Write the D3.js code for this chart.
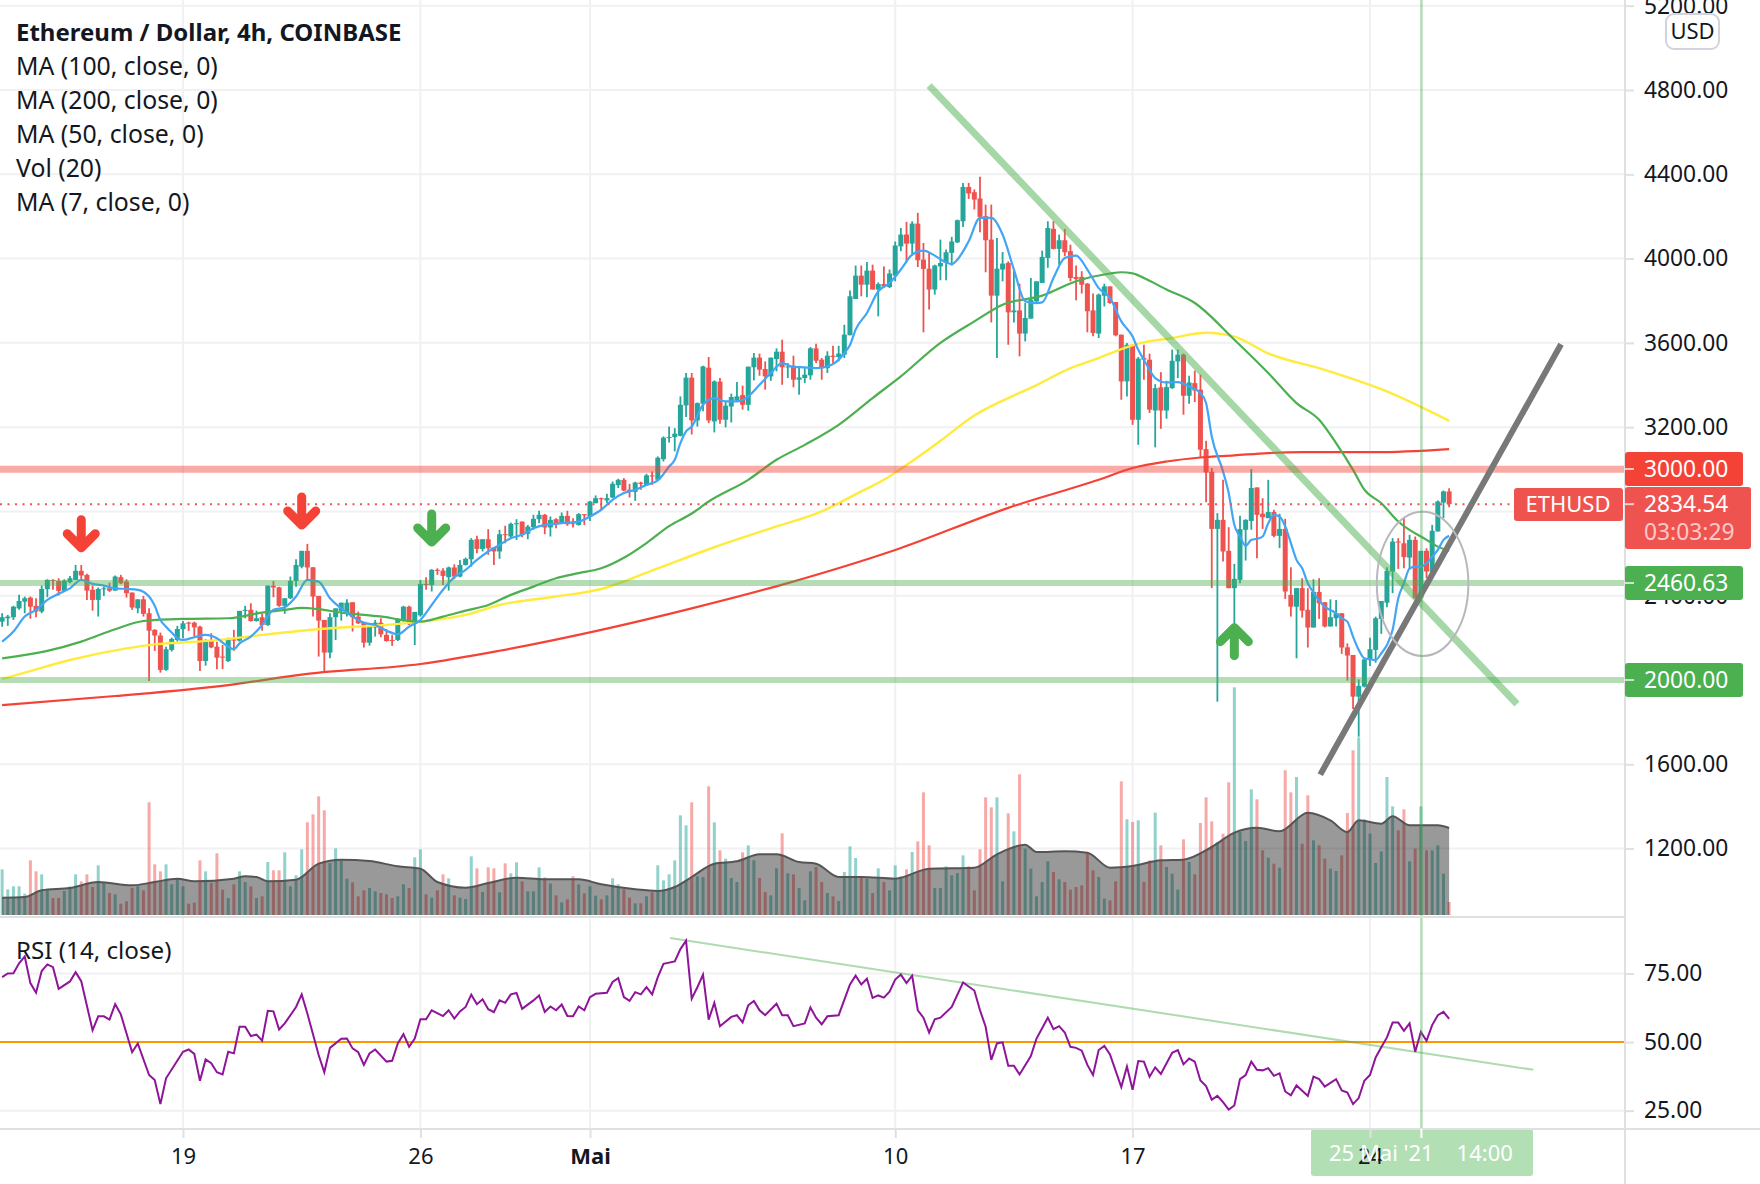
<!DOCTYPE html>
<html>
<head>
<meta charset="utf-8">
<script src="https://d3js.org/d3.v7.min.js"></script>
<style>
  body { margin: 0; background: #fff; }
  text { font-family: "Noto Sans", sans-serif; }
</style>
</head>
<body>
<svg id="chart" width="1760" height="1184"></svg>
<script>
// candles, 4h, first one is 32 bars before 19 Apr
var firstBar = -32;
var opens = [2277,2293,2298,2340,2372,2391,2352,2325,2431,2475,
2470,2423,2464,2475,2518,2499,2428,2380,2432,2435,
2424,2488,2467,2415,2340,2383,2317,2238,2211,2048,2143,2190,
2241,2272,2272,2253,2090,2190,2158,2111,2090,2193,
2187,2328,2333,2280,2298,2261,2447,2440,2352,2388,
2470,2538,2613,2535,2399,2285,2130,2298,2328,2317,
2369,2301,2276,2177,2249,2272,2214,2190,2190,2282,
2348,2266,2307,2456,2451,2523,2519,2488,2534,2491,
2546,2573,2668,2622,2668,2629,2610,2692,2681,2739,
2752,2694,2725,2763,2784,2724,2763,2741,2779,2744,
2736,2787,2776,2839,2863,2852,2866,2925,2950,2903,
2893,2937,2925,2971,2950,3048,3148,3153,3159,3303,
3435,3232,3311,3482,3227,3416,3235,3298,3327,3352,
3306,3484,3530,3476,3441,3523,3558,3484,3492,3425,
3433,3446,3574,3520,3480,3539,3533,3544,3636,3808,
3919,3876,3943,3853,3879,3865,3919,4058,4114,4071,
4166,3995,3952,3853,3963,3979,4027,4077,4177,4340,
4315,4285,4201,4090,3824,3948,3979,3745,3754,3644,
3715,3797,3884,4003,4141,4046,4087,4035,3913,3913,
3881,3754,3644,3824,3868,3794,3639,3417,3591,3235,
3528,3520,3279,3389,3279,3385,3512,3544,3349,3409,
3378,3096,2988,2717,2760,2613,2436,2475,2713,2755,
2914,2789,2768,2797,2684,2717,2404,2348,2436,2333,
2249,2418,2369,2254,2293,2317,2155,2119,1921,1969,
2095,2143,2290,2367,2515,2657,2649,2581,2665,2388,
2613,2512,2705,2842,2895];
var closes = [2298,2301,2348,2375,2388,2348,2325,2432,2475,2470,
2423,2472,2483,2518,2496,2424,2380,2432,2435,2424,
2491,2459,2412,2344,2383,2314,2234,2211,2048,2146,2195,2242,
2269,2268,2250,2090,2190,2155,2106,2106,2195,2187,
2328,2333,2280,2293,2261,2448,2439,2352,2388,2470,
2546,2613,2534,2396,2282,2130,2298,2340,2367,2367,
2298,2269,2177,2253,2272,2217,2185,2185,2288,2348,
2265,2323,2456,2451,2523,2518,2494,2534,2491,2546,
2575,2665,2622,2668,2625,2610,2692,2689,2741,2744,
2689,2728,2765,2784,2724,2760,2744,2779,2739,2741,
2787,2782,2847,2863,2858,2863,2931,2950,2899,2893,
2937,2931,2971,2966,3055,3150,3153,3169,3306,3435,
3232,3314,3488,3232,3417,3235,3302,3343,3346,3306,
3487,3530,3473,3441,3530,3558,3484,3488,3425,3436,
3449,3574,3515,3480,3539,3533,3549,3639,3821,3919,
3876,3943,3853,3879,3868,3929,4062,4114,4071,4166,
3992,3951,3853,3967,3979,4030,4081,4182,4340,4309,
4280,4198,4087,3824,3952,3976,3745,3754,3644,3718,
3805,3892,4008,4145,4046,4087,4030,3908,3903,3876,
3750,3647,3829,3868,3789,3636,3417,3591,3235,3525,
3520,3283,3385,3279,3390,3515,3544,3349,3412,3374,
3093,2985,2717,2760,2610,2436,2480,2716,2760,2911,
2784,2773,2797,2684,2717,2420,2348,2436,2329,2249,
2418,2364,2254,2298,2317,2154,2116,1921,1972,2098,
2146,2293,2375,2518,2657,2652,2583,2665,2388,2613,
2515,2708,2847,2895,2834.54];
var highs = [2317,2309,2352,2404,2396,2396,2388,2448,2478,2478,
2483,2478,2494,2546,2546,2504,2448,2439,2443,2462,
2496,2499,2478,2415,2383,2399,2340,2241,2225,2158,2201,2257,
2280,2277,2277,2257,2193,2222,2182,2166,2201,2238,
2328,2352,2364,2329,2314,2448,2470,2443,2388,2491,
2573,2613,2646,2535,2399,2285,2317,2340,2367,2383,
2369,2325,2276,2266,2285,2293,2241,2214,2293,2352,
2352,2323,2475,2488,2526,2530,2530,2538,2549,2570,
2581,2673,2684,2668,2716,2629,2713,2732,2747,2763,
2752,2736,2784,2803,2788,2776,2768,2795,2803,2768,
2792,2787,2850,2876,2866,2884,2942,2955,2958,2931,
2941,2941,2979,2990,3061,3156,3203,3195,3346,3457,
3457,3317,3491,3533,3422,3433,3322,3359,3414,3397,
3487,3552,3549,3512,3530,3574,3615,3504,3539,3484,
3480,3580,3596,3528,3560,3586,3586,3686,3849,3967,
3967,3984,3971,3887,3963,3948,4081,4145,4174,4177,
4217,4074,4027,3971,4090,4043,4103,4185,4359,4359,
4328,4388,4256,4256,4098,4031,3987,3940,3881,3789,
3908,3892,4038,4177,4177,4114,4141,4066,3967,3940,
3884,3834,3834,3881,3868,3794,3639,3599,3591,3533,
3591,3549,3404,3461,3420,3568,3568,3549,3444,3468,
3449,3135,3006,2792,2950,2725,2551,2779,2763,3001,
2914,2863,2950,2808,2789,2765,2535,2436,2483,2436,
2478,2483,2369,2383,2380,2317,2174,2119,2003,2098,
2201,2301,2375,2535,2673,2673,2771,2689,2681,2613,
2625,2736,2852,2899,2910];
var lows = [2253,2257,2285,2333,2317,2291,2298,2317,2393,2428,
2401,2420,2459,2475,2475,2380,2329,2301,2399,2418,
2424,2455,2391,2333,2317,2301,1995,2138,2035,2044,2135,2182,
2198,2233,2206,2043,2068,2151,2051,2052,2086,2139,
2182,2293,2277,2277,2234,2257,2393,2348,2314,2385,
2443,2530,2470,2301,2111,2037,2103,2190,2282,2301,
2230,2266,2154,2163,2206,2203,2182,2162,2185,2277,
2261,2166,2301,2428,2420,2499,2451,2424,2478,2488,
2543,2538,2602,2610,2594,2546,2575,2649,2673,2665,
2678,2668,2713,2744,2692,2681,2720,2741,2732,2724,
2733,2736,2755,2839,2808,2839,2863,2911,2896,2866,
2850,2903,2922,2926,2950,3037,3127,3085,3156,3248,
3165,3203,3275,3219,3175,3216,3199,3222,3324,3283,
3278,3422,3444,3378,3420,3465,3401,3433,3389,3354,
3409,3425,3504,3425,3457,3504,3512,3528,3636,3808,
3821,3816,3853,3726,3860,3860,3892,4035,3982,4014,
3960,3650,3758,3829,3897,3897,3967,4074,4150,4283,
4233,4125,3935,3697,3528,3892,3591,3697,3536,3607,
3715,3789,3884,3956,4043,3971,4011,3892,3802,3834,
3650,3631,3623,3773,3786,3631,3330,3346,3211,3116,
3425,3267,3104,3192,3240,3382,3433,3259,3311,3319,
3058,2844,2436,1897,2562,2436,2151,2459,2567,2713,
2578,2717,2768,2678,2626,2385,2301,2103,2296,2154,
2249,2290,2250,2254,2254,2124,1997,1862,1731,1965,
2067,2082,2219,2345,2412,2527,2530,2523,2388,2372,
2483,2507,2705,2768,2820];
// volume, arbitrary units (the pane has no scale)
var volumes = [137,77,86,86,64,164,131,122,74,51,
51,72,86,122,101,122,84,149,99,66,
62,34,41,81,86,74,338,152,131,152,92,109,
86,34,37,164,131,96,185,76,51,92,
131,99,86,51,56,159,134,134,188,86,
119,197,278,302,356,314,156,200,164,109,
98,56,74,81,71,66,62,51,56,92,
81,173,197,62,52,74,122,110,59,52,
48,176,140,69,143,140,68,155,125,158,
101,71,71,143,113,94,59,38,47,116,
92,65,86,58,47,59,110,92,77,52,
35,35,56,68,149,104,122,164,299,269,
338,116,114,386,278,194,169,111,99,188,
209,164,111,69,59,140,245,125,122,81,
44,131,144,99,66,56,42,129,206,171,
114,109,66,140,99,74,149,116,137,189,
221,368,209,81,81,146,119,126,179,146,
74,197,353,323,353,101,305,251,422,199,
139,56,99,161,129,107,99,76,84,89,
186,134,114,49,44,101,401,287,279,284,
99,164,307,209,144,124,76,227,159,122,
276,353,281,219,244,398,683,249,222,377,
347,194,172,154,142,434,368,414,214,359,
224,209,169,139,132,179,306,494,533,287,
244,156,191,414,326,254,317,161,199,326,
194,194,209,124,39];
var volMA = [[-32,52],[-28,54],[-25,74],[-20,81],[-15,99],[-9,89],[-5,99],[-1,109],[2,101],[9,109],[11,116],[13,114],[15,101],[20,106],[24,154],[28,166],[33,162],[38,146],[42,139],[45,99],[50,82],[54,96],[59,112],[64,107],[70,107],[74,92],[80,77],[84,72],[87,84],[90,114],[94,154],[98,161],[102,182],[105,182],[109,159],[112,154],[116,114],[120,114],[126,109],[132,139],[140,142],[144,182],[149,211],[151,189],[156,191],[160,187],[164,142],[168,147],[173,164],[177,166],[182,204],[186,247],[190,262],[194,251],[199,307],[203,284],[206,249],[208,284],[212,274],[214,296],[217,269],[222,269],[224,261]];

var ma7 = [[-32,2182],[-30,2230],[-28,2301],[-26,2333],[-24,2380],[-22,2409],[-20,2435],[-18,2475],[-16,2456],[-14,2448],[-12,2435],[-10,2432],[-8,2428],[-6,2396],[-5,2352],[-4,2285],[-3,2253],[-2,2225],[-1,2198],[0,2190],[2,2203],[4,2214],[6,2198],[8,2158],[9,2146],[10,2174],[12,2206],[14,2261],[16,2333],[18,2345],[20,2396],[22,2475],[24,2467],[26,2388],[28,2340],[30,2301],[32,2272],[34,2261],[36,2234],[38,2217],[40,2253],[42,2285],[44,2356],[46,2428],[48,2488],[50,2523],[52,2570],[54,2610],[56,2641],[58,2673],[60,2689],[62,2720],[64,2736],[66,2741],[68,2747],[70,2752],[72,2776],[74,2808],[76,2855],[78,2887],[80,2903],[82,2926],[84,2947],[86,3013],[87,3045],[88,3124],[89,3180],[90,3203],[92,3306],[94,3338],[96,3322],[98,3322],[100,3346],[102,3401],[104,3457],[106,3504],[108,3485],[110,3484],[112,3480],[114,3488],[116,3520],[117,3552],[118,3590],[119,3663],[121,3742],[123,3845],[125,3884],[127,3948],[129,4019],[131,4038],[133,4014],[135,3982],[136,3974],[137,3995],[139,4082],[141,4193],[143,4193],[145,4114],[147,3948],[149,3797],[151,3789],[152,3792],[154,3908],[156,4003],[158,4014],[160,3948],[162,3860],[164,3813],[166,3702],[168,3630],[169,3567],[170,3520],[172,3433],[174,3412],[176,3414],[178,3393],[180,3362],[181,3314],[182,3156],[184,2990],[185,2887],[186,2736],[187,2681],[188,2637],[189,2665],[190,2670],[191,2681],[192,2744],[193,2784],[194,2776],[195,2729],[196,2650],[197,2570],[198,2530],[199,2459],[200,2415],[202,2348],[204,2317],[205,2293],[206,2277],[207,2206],[208,2143],[209,2103],[210,2098],[211,2095],[212,2127],[213,2166],[214,2238],[215,2388],[216,2459],[217,2530],[218,2538],[219,2538],[220,2554],[221,2586],[222,2618],[223,2665],[224,2684]];
var ma50 = [[-32,2103],[-24,2138],[-18,2182],[-12,2241],[-7,2280],[0,2290],[8,2293],[14,2320],[18,2333],[21,2342],[24,2336],[28,2320],[32,2309],[36,2298],[38,2288],[42,2277],[46,2301],[50,2329],[54,2356],[58,2404],[62,2443],[66,2483],[70,2507],[74,2530],[78,2580],[82,2650],[86,2730],[90,2790],[93,2847],[100,2950],[105,3045],[110,3116],[116,3211],[122,3338],[127,3441],[134,3600],[140,3702],[145,3781],[152,3824],[158,3892],[164,3929],[166,3935],[168,3930],[170,3908],[174,3853],[179,3789],[186,3615],[192,3457],[197,3314],[201,3235],[204,3124],[207,2997],[209,2903],[212,2839],[215,2752],[220,2665],[222,2633],[224,2613]];
var ma100 = [[-32,2005],[-28,2035],[-20,2095],[-10,2150],[-5,2169],[0,2178],[5,2187],[14,2214],[21,2234],[28,2249],[36,2261],[42,2277],[50,2309],[56,2356],[66,2396],[74,2432],[84,2530],[94,2630],[104,2720],[113,2800],[120,2895],[124,2950],[128,3020],[134,3135],[140,3255],[146,3338],[150,3386],[157,3480],[162,3528],[165,3560],[169,3596],[175,3623],[181,3648],[186,3630],[192,3550],[202,3472],[212,3380],[224,3230]];
var ma200 = [[-32,1881],[-12,1924],[8,1976],[22,2029],[42,2076],[56,2139],[74,2238],[90,2340],[107,2460],[126,2617],[146,2817],[162,2950],[168,3006],[174,3037],[180,3056],[186,3066],[192,3077],[198,3081],[211,3081],[224,3096]];
var rsi = [[-32,73.7],[-31,75],[-30,75.1],[-29,78.7],[-28,81.2],[-27,71.5],[-26,68],[-25,75.9],[-24,78.3],[-23,77.3],[-22,69.4],[-20,72.1],[-19,75.5],[-18,72.2],[-16,54.3],[-15,59.4],[-14,59.4],[-13,58.2],[-12,63.8],[-11,60.1],[-9,46.3],[-8,49.5],[-6,38],[-5,36.2],[-4,27.4],[-3,36.8],[0,46.5],[1,47.3],[2,45.7],[3,35.9],[4,43.7],[5,42.3],[6,39],[7,38.2],[8,46.5],[9,45.9],[10,55.6],[11,55.6],[12,52.2],[13,52.7],[14,50.5],[15,61.4],[16,61.2],[17,54.6],[18,56.8],[20,62.8],[21,67.4],[22,60.4],[24,45.3],[25,39],[26,47.9],[28,51.2],[29,51.3],[30,47.7],[31,46.3],[32,41.7],[33,45.9],[34,47.3],[36,42.9],[37,43.2],[38,49.5],[39,52.9],[40,48.3],[41,51.3],[42,58.3],[43,58.3],[44,61.6],[46,59.5],[47,61.6],[48,58.6],[49,61.2],[50,62.8],[51,67.3],[52,63.8],[53,65.6],[54,62],[55,60.9],[56,65.2],[57,64.3],[58,67.4],[59,67.9],[60,62.1],[62,65.2],[63,67],[64,61],[65,63],[66,61.6],[67,63.7],[68,59.5],[69,59.4],[70,63],[71,61.6],[72,66.4],[73,67.6],[75,68],[76,71.9],[77,73.3],[78,66.4],[79,65],[80,68.2],[81,67.4],[82,70],[83,67.4],[84,73.7],[85,78.5],[87,79.4],[88,83.9],[89,87],[90,65.8],[91,70],[92,74.6],[93,58.2],[94,64.3],[95,55.8],[97,59.2],[98,59.8],[99,57.2],[100,63.4],[101,65],[102,61.6],[103,59.8],[105,64],[106,59.8],[107,59.8],[108,55.8],[110,56.8],[111,62.6],[112,58.9],[113,56.5],[114,59.4],[116,59.8],[118,71],[119,74.2],[120,71],[121,73.1],[122,66.1],[123,67],[124,66.2],[125,68.4],[126,72.8],[127,74.6],[128,71.5],[129,74.2],[130,61.6],[131,58.9],[132,53.5],[133,58.3],[134,58.9],[136,62.8],[138,71.7],[140,68.8],[141,61.6],[142,55.6],[143,43.5],[144,49.5],[145,49.9],[146,41.4],[147,41.4],[148,38.2],[150,44.9],[151,51.3],[153,58.9],[154,54.7],[155,55.8],[156,53.5],[157,48.3],[158,47.9],[159,46.9],[160,41.7],[161,38],[162,47.1],[163,48.6],[164,45.5],[166,33.6],[167,41.1],[168,32.6],[169,43.1],[170,42.9],[171,37.4],[172,40.8],[173,38.4],[175,46.1],[176,47.1],[177,41.9],[178,44],[179,42.9],[180,36],[181,34],[182,29],[183,30.4],[184,28.1],[185,25.4],[186,26.9],[187,36.5],[188,38],[189,42.9],[190,39.9],[191,39.7],[192,40.5],[193,37.7],[194,38.6],[195,32],[196,30.6],[197,34.2],[199,30.4],[200,37.4],[201,36.5],[202,33.8],[204,36.5],[205,32.4],[206,31.6],[207,27.4],[208,29.6],[209,35.9],[210,38],[211,44.4],[212,48.1],[213,51.7],[214,57.1],[215,57.1],[216,54.1],[217,56.8],[218,46.5],[219,53.7],[220,50.5],[221,56.2],[222,59.8],[223,61],[224,58.5]];

var priceTicks = [5200,4800,4400,4000,3600,3200,2400,1600,1200];
var gridPrices = [5200,4800,4400,4000,3600,3200,2800,2400,1600,1200];
var rsiTicks = [75,50,25];
var dayBars = [0,42,72,126,168,210];
var dayLabels = ["19","26","Mai","10","17","24"];
var legendLines = ["MA (100, close, 0)","MA (200, close, 0)","MA (50, close, 0)","Vol (20)","MA (7, close, 0)"];

// drawings on the chart, in bars / price
var downTrend = [[132,4821],[236,1886]];
var upTrend = [[201.2,1551],[243.8,3593]];
var rsiTrend = [[86.2,87.9],[238.9,39.9]];
var crossBar = 219.1;
var levels = [{p:3000,c:"#f44336",o:0.45,w:7},{p:2460.63,c:"#4caf50",o:0.42,w:6},{p:2000,c:"#4caf50",o:0.42,w:6}];
var arrows = [
  {bar:-18,price:2604,c:"#f44336",up:false},
  {bar:21,price:2712,c:"#f44336",up:false},
  {bar:44,price:2631,c:"#4caf50",up:false},
  {bar:186,price:2272,c:"#4caf50",up:true}
];

var axisX = 1625;
var priceBottom = 915;
var timeY = 1129;
var green = "#26a69a", red = "#ef5350", ink = "#131722", gridC = "#f1f1f3", lineC = "#e0e0e3";

var svg = d3.select("#chart");

var x = d3.scaleLinear().domain([0,210]).range([183,1370]);
var y = d3.scaleLinear().domain([2000,4800]).range([680,90]);
var yVol = d3.scaleLinear().domain([0,600]).range([priceBottom,priceBottom-200]);
var yRsi = d3.scaleLinear().domain([25,75]).range([1110.7,973.5]);

var candles = opens.map(function(o,i) {
  return { bar:i+firstBar, o:o, c:closes[i], h:highs[i], l:lows[i], v:volumes[i], up:closes[i]>=o };
});

// grid
svg.append("g").selectAll("line").data(gridPrices).enter().append("line")
  .attr("x1",0).attr("x2",axisX).attr("y1",y).attr("y2",y)
  .attr("stroke",gridC).attr("stroke-width",2);
svg.append("g").selectAll("line").data(rsiTicks.filter(function(d){return d!=50;})).enter().append("line")
  .attr("x1",0).attr("x2",axisX).attr("y1",yRsi).attr("y2",yRsi)
  .attr("stroke",gridC).attr("stroke-width",2);
svg.append("g").selectAll("line").data(dayBars).enter().append("line")
  .attr("x1",x).attr("x2",x).attr("y1",0).attr("y2",timeY)
  .attr("stroke",gridC).attr("stroke-width",2);

// volume
svg.append("g").selectAll("rect").data(candles).enter().append("rect")
  .attr("x",function(d){return x(d.bar)-1.5;})
  .attr("width",3)
  .attr("y",function(d){return yVol(d.v);})
  .attr("height",function(d){return priceBottom-yVol(d.v);})
  .attr("fill",function(d){return d.up?green:red;})
  .attr("opacity",0.5);

var volArea = d3.area().x(function(d){return x(d[0]);}).y0(priceBottom).y1(function(d){return yVol(d[1]);}).curve(d3.curveMonotoneX);
var volLine = d3.line().x(function(d){return x(d[0]);}).y(function(d){return yVol(d[1]);}).curve(d3.curveMonotoneX);
svg.append("path").attr("d",volArea(volMA)).attr("fill","#000").attr("opacity",0.4);
svg.append("path").attr("d",volLine(volMA)).attr("fill","none").attr("stroke","#555").attr("stroke-width",2);

// candles
var cg = svg.append("g");
cg.selectAll("line").data(candles).enter().append("line")
  .attr("x1",function(d){return x(d.bar);}).attr("x2",function(d){return x(d.bar);})
  .attr("y1",function(d){return y(d.h);}).attr("y2",function(d){return y(d.l);})
  .attr("stroke",function(d){return d.up?green:red;}).attr("stroke-width",1.8);
cg.selectAll("rect").data(candles).enter().append("rect")
  .attr("x",function(d){return x(d.bar)-2.5;}).attr("width",5)
  .attr("y",function(d){return y(Math.max(d.o,d.c));})
  .attr("height",function(d){return Math.max(1,Math.abs(y(d.o)-y(d.c)));})
  .attr("fill",function(d){return d.up?green:red;});

// moving averages
var maLine = d3.line().x(function(d){return x(d[0]);}).y(function(d){return y(d[1]);}).curve(d3.curveMonotoneX);
[[ma200,"#f44336",2.2],[ma100,"#ffeb3b",2.4],[ma50,"#4caf50",2.2],[ma7,"#42a5f5",2.2]].forEach(function(m) {
  svg.append("path").attr("d",maLine(m[0])).attr("fill","none").attr("stroke",m[1]).attr("stroke-width",m[2]);
});

// levels
svg.append("g").selectAll("line").data(levels).enter().append("line")
  .attr("x1",0).attr("x2",axisX)
  .attr("y1",function(d){return y(d.p);}).attr("y2",function(d){return y(d.p);})
  .attr("stroke",function(d){return d.c;}).attr("stroke-opacity",function(d){return d.o;})
  .attr("stroke-width",function(d){return d.w;});

// last price line
svg.append("line").attr("x1",0).attr("x2",1514).attr("y1",y(2834.54)).attr("y2",y(2834.54))
  .attr("stroke",red).attr("stroke-width",2).attr("stroke-dasharray","2 5.5");

// trend lines
var trendPath = d3.line().x(function(d){return x(d[0]);}).y(function(d){return y(d[1]);});
svg.append("path").attr("d",trendPath(downTrend)).attr("stroke","#4caf50").attr("stroke-opacity",0.5).attr("stroke-width",7).attr("fill","none");
svg.append("path").attr("d",trendPath(upTrend)).attr("stroke","#787878").attr("stroke-width",6).attr("fill","none");

// circle around the breakout
svg.append("ellipse")
  .attr("cx",x(219.3)).attr("cy",y(2456))
  .attr("rx",x(8.1)-x(0)).attr("ry",y(2000)-y(2342))
  .attr("fill","none").attr("stroke","#b8b8bc").attr("stroke-width",2);

// hand drawn arrows
arrows.forEach(function(a) {
  var ax = x(a.bar), ay = y(a.price), s = a.up?1:-1;
  var tipY = ay+s*5;
  var p = d3.path();
  p.moveTo(ax,tipY); p.lineTo(ax,tipY+s*28);
  p.moveTo(ax-14,tipY+s*14); p.lineTo(ax,tipY); p.lineTo(ax+14,tipY+s*14);
  svg.append("path").attr("d",p.toString()).attr("fill","none").attr("stroke",a.c)
    .attr("stroke-width",9).attr("stroke-linecap","round").attr("stroke-linejoin","round");
});

// RSI pane
svg.append("line").attr("x1",0).attr("x2",axisX).attr("y1",yRsi(50)).attr("y2",yRsi(50)).attr("stroke","#ff9800").attr("stroke-width",2);
var rsiLine = d3.line().x(function(d){return x(d[0]);}).y(function(d){return yRsi(d[1]);});
svg.append("path").attr("d",rsiLine(rsiTrend)).attr("fill","none").attr("stroke","#4caf50").attr("stroke-opacity",0.45).attr("stroke-width",2);
svg.append("path").attr("d",rsiLine(rsi)).attr("fill","none").attr("stroke","#8e1599").attr("stroke-width",2);

// crosshair
svg.append("line").attr("x1",x(crossBar)).attr("x2",x(crossBar)).attr("y1",0).attr("y2",timeY)
  .attr("stroke","#4caf50").attr("stroke-opacity",0.42).attr("stroke-width",2.5);

// panel frames
svg.append("line").attr("x1",0).attr("x2",axisX).attr("y1",917).attr("y2",917).attr("stroke",lineC).attr("stroke-width",2);
svg.append("line").attr("x1",axisX).attr("x2",axisX).attr("y1",0).attr("y2",1184).attr("stroke",lineC).attr("stroke-width",2);

// right axis
var priceAxis = d3.axisRight(y).tickValues(priceTicks).tickSize(9).tickPadding(10).tickFormat(d3.format(".2f"));
var rsiAxis = d3.axisRight(yRsi).tickValues(rsiTicks).tickSize(9).tickPadding(10).tickFormat(d3.format(".2f"));
[priceAxis,rsiAxis].forEach(function(ax) {
  var g = svg.append("g").attr("transform","translate("+axisX+",0)").call(ax);
  g.select(".domain").remove();
  g.selectAll("line").attr("stroke",lineC).attr("stroke-width",2);
  g.selectAll("text").attr("font-size",22.8).attr("font-family","Noto Sans").attr("fill",ink);
});

// time axis, the date box sits under the tick label
svg.append("rect").attr("x",1311).attr("y",1129).attr("width",222).attr("height",47).attr("rx",3).attr("fill","#b2dfb4");
var timeAxis = d3.axisBottom(x).tickValues(dayBars).tickSize(9).tickPadding(10)
  .tickFormat(function(d,i){return dayLabels[i];});
var tg = svg.append("g").attr("transform","translate(0,"+timeY+")").call(timeAxis);
tg.select(".domain").attr("stroke",lineC).attr("stroke-width",2).attr("d","M0,0H1760");
tg.selectAll("line").attr("stroke",lineC).attr("stroke-width",2);
tg.selectAll("text").attr("font-size",22).attr("font-family","Noto Sans").attr("fill",ink)
  .attr("font-weight",function(d,i){return dayLabels[i]=="Mai"?"bold":null;});
svg.append("line").attr("x1",x(crossBar)).attr("x2",x(crossBar)).attr("y1",timeY).attr("y2",timeY+9).attr("stroke","#fff").attr("stroke-width",2);
svg.append("text").attr("x",1329).attr("y",1161).attr("font-size",22).attr("fill","#fff").style("white-space","pre").text("25 Mai '21    14:00");

// price labels
var boxes = [
  {t:"3000.00",y0:452,y1:486,w:118,c:"#f44336"},
  {t:"2460.63",y0:566,y1:600,w:118,c:"#4caf50"},
  {t:"2000.00",y0:663,y1:697,w:118,c:"#4caf50"}
];
boxes.forEach(function(b) {
  svg.append("rect").attr("x",axisX).attr("y",b.y0).attr("width",b.w).attr("height",b.y1-b.y0).attr("rx",3).attr("fill",b.c);
  svg.append("line").attr("x1",axisX).attr("x2",axisX+9).attr("y1",(b.y0+b.y1)/2).attr("y2",(b.y0+b.y1)/2).attr("stroke","#fff").attr("stroke-opacity",0.7).attr("stroke-width",2);
  svg.append("text").attr("x",axisX+19).attr("y",(b.y0+b.y1)/2+8).attr("font-size",22.8).attr("fill","#fff").text(b.t);
});
svg.append("rect").attr("x",1514).attr("y",488).attr("width",109).attr("height",33).attr("rx",3).attr("fill",red);
svg.append("text").attr("x",1568).attr("y",512).attr("text-anchor","middle").attr("font-size",22).attr("fill","#fff").text("ETHUSD");
svg.append("rect").attr("x",axisX).attr("y",487).attr("width",126).attr("height",62).attr("rx",3).attr("fill",red);
svg.append("line").attr("x1",axisX).attr("x2",axisX+9).attr("y1",y(2834.54)).attr("y2",y(2834.54)).attr("stroke","#fff").attr("stroke-opacity",0.7).attr("stroke-width",2);
svg.append("text").attr("x",axisX+19).attr("y",512).attr("font-size",22.8).attr("fill","#fff").text("2834.54");
svg.append("text").attr("x",axisX+19).attr("y",540).attr("font-size",22.8).attr("fill","#fff").attr("fill-opacity",0.7).text("03:03:29");

// currency button
svg.append("rect").attr("x",1666).attr("y",14).attr("width",53).attr("height",35).attr("rx",8).attr("fill","#fff").attr("stroke","#d1d4dc").attr("stroke-width",2);
svg.append("text").attr("x",1692.5).attr("y",39).attr("text-anchor","middle").attr("font-size",22).attr("fill",ink).text("USD");

// legend
svg.append("text").attr("x",16).attr("y",41).attr("font-size",24).attr("font-weight","bold").attr("fill",ink).text("Ethereum / Dollar, 4h, COINBASE");
svg.append("g").selectAll("text").data(legendLines).enter().append("text")
  .attr("x",16).attr("y",function(d,i){return 75+i*34;}).attr("font-size",24.8).attr("fill",ink).text(function(d){return d;});
svg.append("text").attr("x",16).attr("y",959).attr("font-size",24.2).attr("fill",ink).text("RSI (14, close)");
</script>
</body>
</html>
